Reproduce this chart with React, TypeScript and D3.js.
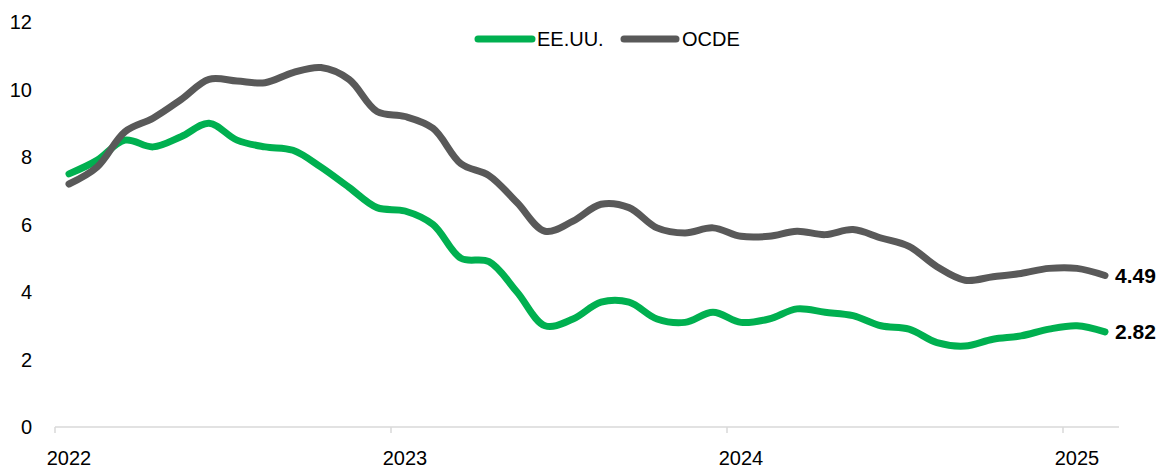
import React from "react";
import * as d3 from "d3";

// monthly inflation, Jan 2022 - Feb 2025
const months = d3.range(38).map((i) => {
  const y = 2022 + Math.floor(i / 12);
  const m = (i % 12) + 1;
  return `${y}-${String(m).padStart(2, "0")}`;
});

const usa = [
  7.5, 7.9, 8.5, 8.3, 8.6, 9.0, 8.5, 8.3, 8.2, 7.7, 7.1, 6.5,
  6.4, 6.0, 5.0, 4.9, 4.0, 3.0, 3.2, 3.7, 3.7, 3.2, 3.1, 3.4,
  3.1, 3.2, 3.5, 3.4, 3.3, 3.0, 2.9, 2.5, 2.4, 2.6, 2.7, 2.9,
  3.0, 2.82,
];

const ocde = [
  7.2, 7.7, 8.75, 9.15, 9.7, 10.3, 10.25, 10.2, 10.5, 10.65, 10.3, 9.35,
  9.2, 8.85, 7.8, 7.45, 6.65, 5.8, 6.1, 6.6, 6.5, 5.9, 5.75, 5.9,
  5.65, 5.65, 5.8, 5.7, 5.85, 5.6, 5.35, 4.75, 4.35, 4.45, 4.55, 4.7,
  4.7, 4.49,
];

const yTicks = [0, 2, 4, 6, 8, 10, 12];
const yearLabels = ["2022", "2023", "2024", "2025"];

const W = 1164;
const H = 469;
const font = "'Liberation Sans', Arial, sans-serif";

const App = () => {
  const x = d3.scaleBand().domain(months).range([55, 1119]).padding(0);
  const y = d3.scaleLinear().domain([0, 12]).range([427, 22]);
  const cx = (i: number) => (x(months[i]) as number) + x.bandwidth() / 2;

  const line = d3
    .line<number>()
    .x((_, i) => cx(i))
    .y((d) => y(d))
    .curve(d3.curveCatmullRom.alpha(0.5));

  const series = [
    { name: "EE.UU.", values: usa, color: "#00B050" },
    { name: "OCDE", values: ocde, color: "#595959" },
  ];

  return (
    <div style={{ position: "absolute", left: 0, top: 0 }}>
      <svg width={W} height={H} style={{ display: "block", background: "#fff" }} fontFamily={font}>
        {/* y labels */}
        {yTicks.map((t) => (
          <text key={t} x={32} y={y(t)} textAnchor="end" dominantBaseline="central" fontSize={20} fill="#000">
            {t}
          </text>
        ))}

        {/* x axis */}
        <line x1={55} x2={1119} y1={y(0)} y2={y(0)} stroke="#d9d9d9" strokeWidth={1.5} />
        {yearLabels.map((yr, k) => {
          const i = k * 12;
          const left = x(months[i]) as number;
          return (
            <g key={yr}>
              <line x1={left} x2={left} y1={y(0)} y2={y(0) + 6} stroke="#d9d9d9" strokeWidth={1.5} />
              <text x={cx(i)} y={458} textAnchor="middle" dominantBaseline="central" fontSize={20} fill="#000">
                {yr}
              </text>
            </g>
          );
        })}

        {/* lines */}
        {series.map((s) => (
          <path
            key={s.name}
            d={line(s.values) || ""}
            fill="none"
            stroke={s.color}
            strokeWidth={7}
            strokeLinecap="round"
            strokeLinejoin="round"
          />
        ))}

        {/* end labels */}
        {series.map((s) => {
          const last = s.values.length - 1;
          return (
            <text
              key={s.name + "-end"}
              x={cx(last) + 10}
              y={y(s.values[last])}
              dominantBaseline="central"
              fontSize={21}
              fontWeight="bold"
              fill="#000"
            >
              {s.values[last].toFixed(2)}
            </text>
          );
        })}

        {/* legend */}
        <line x1={478} x2={532} y1={39} y2={39} stroke="#00B050" strokeWidth={7} strokeLinecap="round" />
        <text x={537} y={39} dominantBaseline="central" fontSize={20} fill="#000">EE.UU.</text>
        <line x1={624} x2={676} y1={39} y2={39} stroke="#595959" strokeWidth={7} strokeLinecap="round" />
        <text x={682} y={39} dominantBaseline="central" fontSize={20} fill="#000">OCDE</text>
      </svg>
    </div>
  );
};

export default App;
